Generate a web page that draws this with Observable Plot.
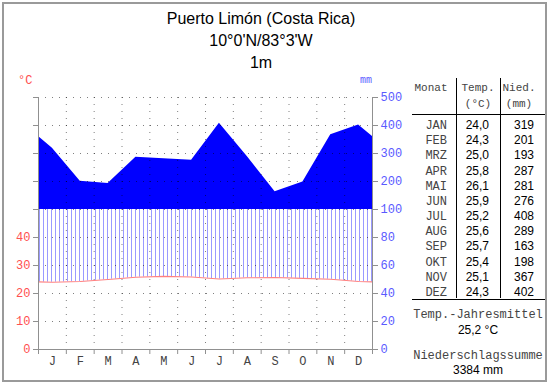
<!DOCTYPE html>
<html><head><meta charset="utf-8">
<script src="https://cdn.jsdelivr.net/npm/d3@7"></script>
<script src="https://cdn.jsdelivr.net/npm/@observablehq/plot@0.6"></script>
<style>
html,body{margin:0;padding:0;background:#fff;}
#wrap{position:relative;width:550px;height:384px;overflow:hidden;background:#fff;}
#frame{position:absolute;left:2px;top:2px;width:541px;height:376px;border:2px solid #9a9a9a;}
#chart{position:absolute;left:0;top:0;}
#over{position:absolute;left:0;top:0;}
</style></head>
<body><div id="wrap"><div id="frame"></div><div id="chart"></div><svg id="over" width="550" height="384"></svg></div>
<script>
// ---- data ----
const titleLines = ["Puerto Limón (Costa Rica)", "10°0'N/83°3'W", "1m"];
const monthLetters = ["J","F","M","A","M","J","J","A","S","O","N","D"];
const monthCodes = ["JAN","FEB","MRZ","APR","MAI","JUN","JUL","AUG","SEP","OKT","NOV","DEZ"];
const temps = [24.0,24.3,25.0,25.8,26.1,25.9,25.2,25.6,25.7,25.4,25.1,24.3];
const precip = [319,201,193,287,281,276,408,289,163,198,367,402];
const tempLabels = ["24,0","24,3","25,0","25,8","26,1","25,9","25,2","25,6","25,7","25,4","25,1","24,3"];
const leftTickValues = [0,10,20,30,40,50,60,70,80,90];
const leftTickLabels = ["0","10","20","30","40","","","","",""];
const rightTickLabels = ["0","20","40","60","80","100","200","300","400","500"];
const annualTemp = "25,2 °C";
const annualPrecip = "3384 mm";

// precipitation (mm) -> diagram units (°C scale)
const pu = p => p <= 100 ? p / 2 : 50 + (p - 100) / 10;

// month centres plus both edges (edge = mean of Dec and Jan)
const tEdge = (temps[0] + temps[11]) / 2;
const pEdge = (precip[0] + precip[11]) / 2;
const series = [{x:0, t:tEdge, p:pEdge}]
  .concat(temps.map((t,i)=>({x:i+0.5, t, p:precip[i]})))
  .concat([{x:12, t:tEdge, p:pEdge}]);

const chart = Plot.plot({
  width: 400, height: 384,
  marginLeft: 38, marginRight: 28, marginTop: 97, marginBottom: 35,
  style: {background:"transparent", fontFamily:"'Liberation Mono', monospace", fontSize:"12px", overflow:"visible"},
  x: {domain:[0,12], axis:null},
  y: {domain:[0,90], axis:null},
  marks: [
    Plot.areaY(series, {x:"x", y1:50, y2:d=>Math.max(pu(d.p),50), fill:"#0000ff", curve:"linear"}),
    Plot.areaY(series, {x:"x", y1:"t", y2:d=>Math.min(pu(d.p),50), fill:"url(#hatch)", curve:"linear"}),
    Plot.line(series, {x:"x", y:"t", stroke:"#ff8080", strokeWidth:1.1, curve:"linear"}),
    Plot.ruleY(d3.range(10,100,10), {stroke:"#000", strokeOpacity:0.5, strokeDasharray:"1,6"}),
    Plot.ruleX(d3.range(1,12), {stroke:"#000", strokeOpacity:0.5, strokeDasharray:"1,6"}),
    Plot.ruleX([0,12], {y1:0, y2:90, stroke:"#909090"}),
    Plot.ruleY([0], {x1:0, x2:12, stroke:"#909090"}),
    Plot.axisY(leftTickValues, {anchor:"left", label:null, tickSize:5, tickPadding:3, stroke:"#909090", fill:"#ff5050", tickFormat:(d)=>leftTickLabels[leftTickValues.indexOf(d)]}),
    Plot.axisY(leftTickValues, {anchor:"right", label:null, tickSize:5, tickPadding:3, stroke:"#909090", fill:"#5a5aff", tickFormat:(d)=>rightTickLabels[leftTickValues.indexOf(d)]}),
    Plot.axisX(d3.range(0,13), {anchor:"bottom", label:null, tickSize:5, stroke:"#909090", tickFormat:()=>""}),
    Plot.axisX(d3.range(0,12).map(i=>i+0.5), {anchor:"bottom", label:null, tickSize:0, tickPadding:7, fill:"#444", tickFormat:d=>monthLetters[Math.floor(d)]})
  ]
});
// hatch pattern for the humid period
const svgNS = "http://www.w3.org/2000/svg";
const defs = document.createElementNS(svgNS, "defs");
const pat = document.createElementNS(svgNS, "pattern");
pat.setAttribute("id","hatch");
pat.setAttribute("patternUnits","userSpaceOnUse");
pat.setAttribute("x","39"); pat.setAttribute("y","0");
pat.setAttribute("width","4"); pat.setAttribute("height","10");
const bg = document.createElementNS(svgNS, "rect");
bg.setAttribute("x","0"); bg.setAttribute("y","0"); bg.setAttribute("width","4"); bg.setAttribute("height","10"); bg.setAttribute("fill","#ffffff");
const bar = document.createElementNS(svgNS, "rect");
bar.setAttribute("x","0"); bar.setAttribute("y","0"); bar.setAttribute("width","1"); bar.setAttribute("height","10"); bar.setAttribute("fill","#9a9aff");
pat.appendChild(bg); pat.appendChild(bar); defs.appendChild(pat);
chart.insertBefore(defs, chart.firstChild);
document.getElementById("chart").appendChild(chart);

// ---- texts and table ----
const over = d3.select("#over");
const sans = "'Liberation Sans', Arial, sans-serif";
const mono = "'Liberation Mono', 'Courier New', monospace";
over.selectAll("text.title").data(titleLines).join("text")
  .attr("x", 261).attr("y",(d,i)=>[24.3,46.3,67.7][i]).attr("text-anchor","middle")
  .attr("font-family",sans).attr("font-size",16).attr("fill","#000").text(d=>d);
over.append("text").attr("x",18).attr("y",84).attr("font-family",mono).attr("font-size",12).attr("fill","#ff5050").text("°C");
over.append("text").attr("x",360).attr("y",83).attr("font-family",mono).attr("font-size",10).attr("fill","#5a5aff").text("mm");

const ln = (x1,y1,x2,y2)=>over.append("line").attr("x1",x1).attr("y1",y1).attr("x2",x2).attr("y2",y2).attr("stroke","#000").attr("stroke-width",1);
ln(456.5,78,456.5,298); ln(500.5,78,500.5,298); ln(412,114.5,545,114.5); ln(412,299.5,545,299.5);

const hdr = [["Monat",431,91],["Temp.",478,91],["(°C)",478,107],["Nied.",519,91],["(mm)",519,107]];
over.selectAll("text.h").data(hdr).join("text").attr("x",d=>d[1]).attr("y",d=>d[2])
  .attr("text-anchor","middle").attr("font-family",mono).attr("font-size",11).attr("fill","#444").text(d=>d[0]);

const rowY = i => 129 + i*15.17;
over.selectAll("text.m").data(monthCodes).join("text").attr("x",447).attr("y",(d,i)=>rowY(i))
  .attr("text-anchor","end").attr("font-family",mono).attr("font-size",12).attr("fill","#444").text(d=>d);
over.selectAll("text.t").data(tempLabels).join("text").attr("x",489).attr("y",(d,i)=>rowY(i))
  .attr("text-anchor","end").attr("font-family",sans).attr("font-size",12).attr("fill","#000").text(d=>d);
over.selectAll("text.p").data(precip).join("text").attr("x",534).attr("y",(d,i)=>rowY(i))
  .attr("text-anchor","end").attr("font-family",sans).attr("font-size",12).attr("fill","#000").text(d=>d);

over.append("text").attr("x",478).attr("y",318).attr("text-anchor","middle").attr("font-family",mono).attr("font-size",12).attr("fill","#444").text("Temp.-Jahresmittel");
over.append("text").attr("x",478).attr("y",334).attr("text-anchor","middle").attr("font-family",sans).attr("font-size",12).attr("fill","#000").text(annualTemp);
over.append("text").attr("x",478).attr("y",359).attr("text-anchor","middle").attr("font-family",mono).attr("font-size",12).attr("fill","#444").text("Niederschlagssumme");
over.append("text").attr("x",478).attr("y",374).attr("text-anchor","middle").attr("font-family",sans).attr("font-size",12).attr("fill","#000").text(annualPrecip);
</script></body></html>
